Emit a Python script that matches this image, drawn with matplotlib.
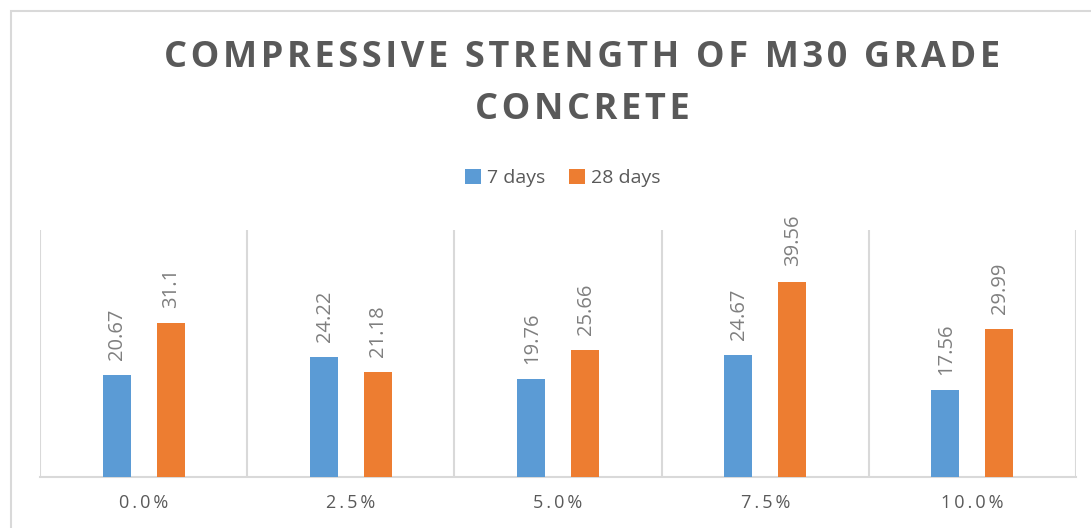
import matplotlib
matplotlib.use("Agg")
import matplotlib.pyplot as plt
from matplotlib.patches import Rectangle
import numpy as np

categories = ["0.0%", "2.5%", "5.0%", "7.5%", "10.0%"]
series_names = ["7 days", "28 days"]
days7 = [20.67, 24.22, 19.76, 24.67, 17.56]
days28 = [31.1, 21.18, 25.66, 39.56, 29.99]
title_lines = ["COMPRESSIVE STRENGTH OF M30 GRADE", "CONCRETE"]

BLUE = "#5B9BD5"
ORANGE = "#ED7D31"
TEXT = "#595959"
GRID = "#D9D9D9"

W, H = 1091, 528
fig = plt.figure(figsize=(W / 100, H / 100), dpi=100)
fig.patch.set_facecolor("white")

# chart border
fig.patches.append(Rectangle((11 / W, -0.1), 1.2, (H - 11) / H + 0.1,
                             transform=fig.transFigure, fill=False,
                             edgecolor=GRID, linewidth=1.5))

ax = fig.add_axes([40 / W, (H - 477) / H, (1076 - 40) / W, (477 - 230) / H])
x = np.arange(len(categories))
bw = 0.135
off = 0.13
b1 = ax.bar(x - off, days7, bw, color=BLUE, label=series_names[0], zorder=3)
b2 = ax.bar(x + off, days28, bw, color=ORANGE, label=series_names[1], zorder=3)

ax.set_xlim(-0.5, len(categories) - 0.5)
ax.set_ylim(0, 50)
ax.set_yticks([])
for s in ["top", "left", "right"]:
    ax.spines[s].set_visible(False)
ax.spines["bottom"].set_color(GRID)
ax.spines["bottom"].set_linewidth(1.5)
ax.set_xticks(np.arange(-0.5, len(categories), 1.0), minor=True)
ax.grid(True, which="minor", axis="x", color=GRID, linewidth=1.5, zorder=0)
ax.tick_params(axis="x", which="both", length=0)

def spaced(s, sep="\u2009"):
    return sep.join(s)

ax.set_xticks(x)
ax.set_xticklabels([spaced(c) for c in categories], color=TEXT, fontsize=13,
                   fontfamily="Open Sans")
ax.tick_params(axis="x", pad=12)

for bars, vals in ((b1, days7), (b2, days28)):
    for rect, v in zip(bars, vals):
        ax.annotate(f"{v:g}", (rect.get_x() + rect.get_width() / 2, v),
                    xytext=(0.5, 11), textcoords="offset points",
                    ha="center", va="bottom", rotation=90,
                    fontsize=14.5, color="#7F7F7F", fontfamily="Open Sans")

for i, line in enumerate(title_lines):
    fig.text(582 / W, 1 - (58 + 52 * i) / H, spaced(line, "\u200a"),
             ha="center", va="center", fontsize=26, fontweight="bold",
             color=TEXT, fontfamily=["Open Sans", "DejaVu Sans"])

leg = fig.legend(handles=[b1, b2], labels=series_names, loc="center",
                 bbox_to_anchor=(563 / W, 1 - 178 / H), ncol=2, frameon=False,
                 handlelength=0.8, handleheight=0.8, handletextpad=0.35,
                 columnspacing=1.2, prop={"family": "Open Sans", "size": 14})
for t in leg.get_texts():
    t.set_color(TEXT)

fig.savefig("out.png", dpi=100, facecolor="white")
